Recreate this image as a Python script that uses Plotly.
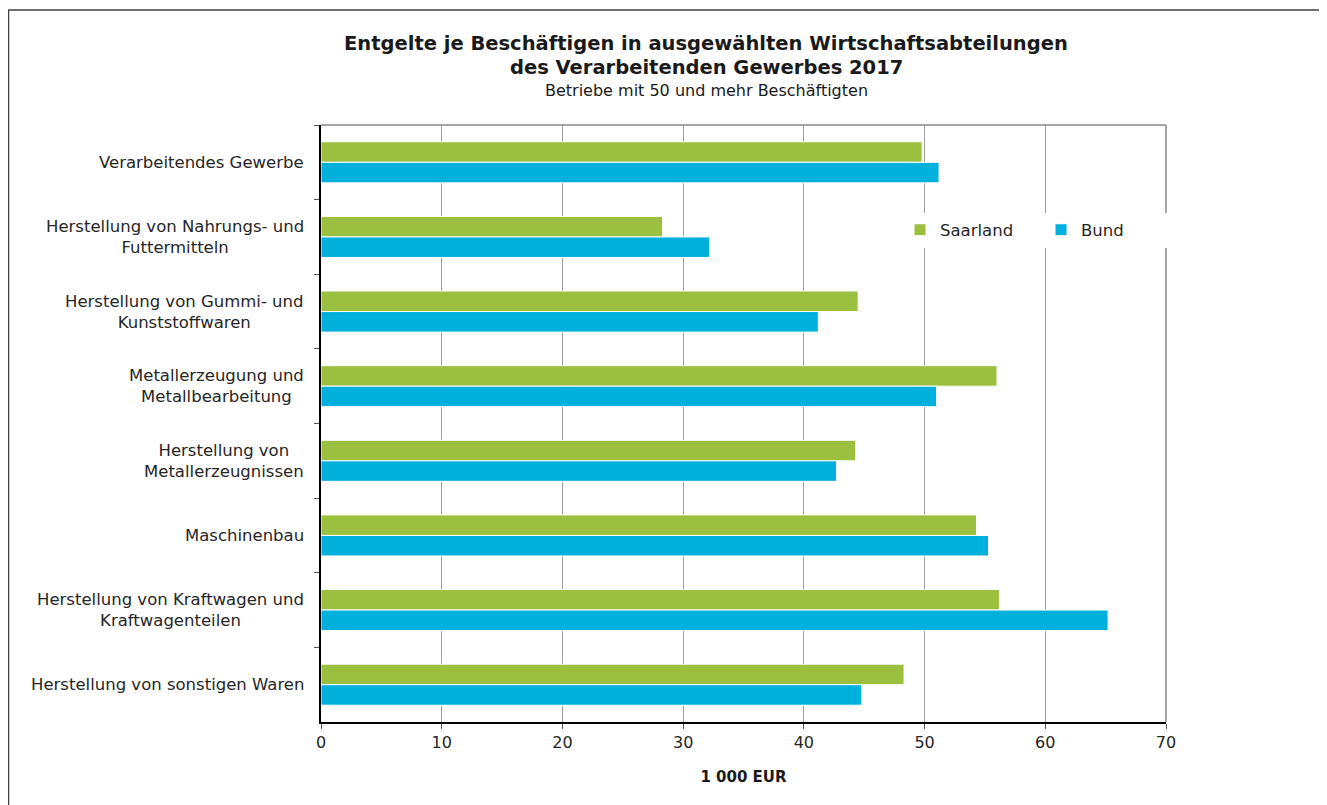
import plotly.graph_objects as go

categories = [
    "Verarbeitendes Gewerbe",
    "Herstellung von Nahrungs- und<br>Futtermitteln",
    "Herstellung von Gummi- und<br>Kunststoffwaren",
    "Metallerzeugung und<br>Metallbearbeitung",
    "Herstellung von<br>Metallerzeugnissen",
    "Maschinenbau",
    "Herstellung von Kraftwagen und<br>Kraftwagenteilen",
    "Herstellung von sonstigen Waren",
]
saarland = [49.8, 28.3, 44.5, 56.0, 44.3, 54.3, 56.2, 48.3]
bund = [51.2, 32.2, 41.2, 51.0, 42.7, 55.3, 65.2, 44.8]
x_ticks = [0, 10, 20, 30, 40, 50, 60, 70]
title_lines = ["Entgelte je Beschäftigen in ausgewählten Wirtschaftsabteilungen",
               "des Verarbeitenden Gewerbes 2017"]
subtitle = "Betriebe mit 50 und mehr Beschäftigten"

FONT = "DejaVu Sans"
GREEN = "#9BBF3F"
BLUE = "#00B0DC"

OFF_X, OFF_Y = 8, 8  # page offset of the figure in the browser
W, H = 1319, 797
L, R, T, B = 313, 161, 117, 83
pw, ph = W - L - R, H - T - B

def px_x(p):
    return (p - OFF_X - L) / pw

def px_y(p):
    return (H - B - (p - OFF_Y)) / ph

fig = go.Figure()
fig.add_trace(go.Bar(y=categories, x=saarland, name="Saarland", orientation="h",
                     marker=dict(color=GREEN, line=dict(color="white", width=1))))
fig.add_trace(go.Bar(y=categories, x=bund, name="Bund", orientation="h",
                     marker=dict(color=BLUE, line=dict(color="white", width=1))))

for c in categories:
    fig.add_annotation(x=px_x(306), xref="paper", y=c, yref="y", text=c,
                       showarrow=False, xanchor="right", align="center",
                       font=dict(family=FONT, size=16.5, color="#262626"))

for line, ypx in zip(title_lines, [44, 67]):
    fig.add_annotation(x=px_x(706), xref="paper", y=px_y(ypx), yref="paper",
                       text="<b>" + line + "</b>",
                       showarrow=False, xanchor="center", yanchor="middle",
                       font=dict(family=FONT, size=19.5, color="#1a1a1a"))
fig.add_annotation(x=px_x(706), xref="paper", y=px_y(90), yref="paper",
                   text=subtitle,
                   showarrow=False, xanchor="center", yanchor="middle",
                   font=dict(family=FONT, size=16, color="#1a1a1a"))

fig.add_shape(type="rect", xref="paper", yref="paper",
              x0=px_x(8.5), x1=px_x(1326), y0=px_y(810), y1=px_y(10),
              line=dict(color="#404040", width=1.5), fillcolor="rgba(0,0,0,0)", layer="below")
fig.add_shape(type="line", xref="paper", yref="paper",
              x0=1, x1=1, y0=0, y1=1, line=dict(color="#888888", width=1.5))
fig.add_shape(type="line", xref="paper", yref="paper",
              x0=0, x1=1, y0=1, y1=1, line=dict(color="#888888", width=1.5))

fig.update_layout(
    width=W, height=H,
    margin=dict(l=L, r=R, t=T, b=B),
    paper_bgcolor="white", plot_bgcolor="white",
    barmode="group", bargap=0.45, bargroupgap=0.0,
    font=dict(family=FONT, size=15, color="#262626"),
    showlegend=True,
    legend=dict(orientation="h", x=px_x(900), y=px_y(230), xanchor="left", yanchor="middle",
                bgcolor="white", font=dict(family=FONT, size=16.5, color="#262626"),
                itemwidth=30, entrywidth=96, traceorder="normal"),
    xaxis=dict(range=[0, 70], tickvals=x_ticks, showgrid=True, gridcolor="#a0a0a0", gridwidth=1,
               zeroline=False, showline=True, linecolor="black", linewidth=2,
               ticks="outside", ticklen=5, tickcolor="#555555",
               tickfont=dict(family=FONT, size=16, color="#262626"),
               title=dict(text="<b>1 000 EUR</b>", font=dict(family=FONT, size=15, color="#1a1a1a"), standoff=20)),
    yaxis=dict(autorange="reversed", showticklabels=False, showline=True, linecolor="black", linewidth=2,
               ticks="outside", tickson="boundaries", ticklen=5, tickcolor="#555555",
               showgrid=False),
)

fig.write_html("out.html")
